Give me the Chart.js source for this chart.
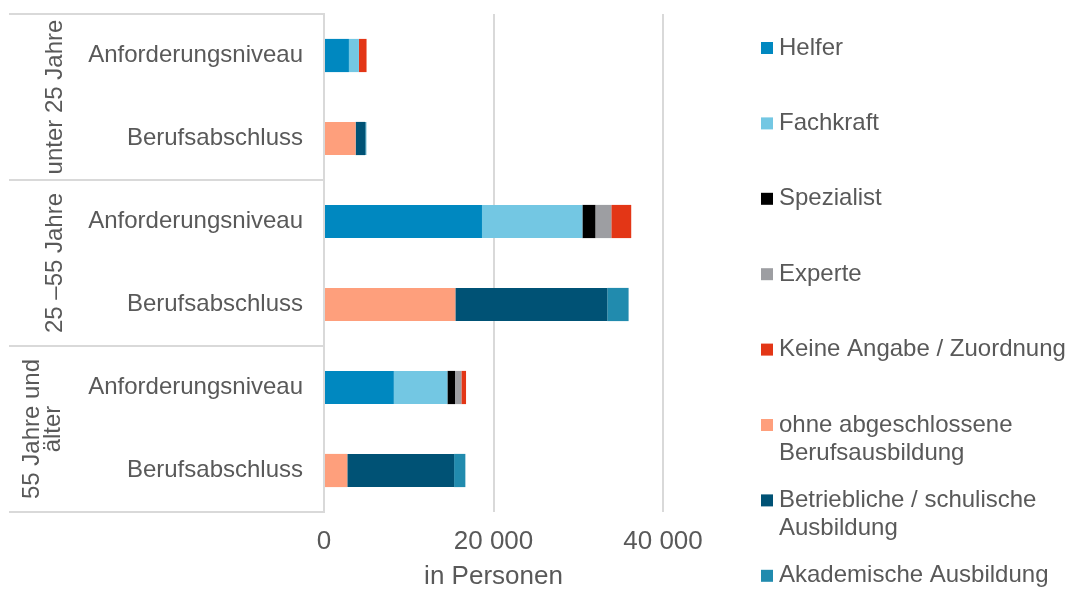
<!DOCTYPE html>
<html>
<head>
<meta charset="utf-8">
<script src="https://cdn.jsdelivr.net/npm/chart.js@4.4.1/dist/chart.umd.min.js"></script>
<style>
  html, body { margin: 0; padding: 0; background: #fff; }
  #wrap { width: 1069px; height: 590px; position: relative; }
</style>
</head>
<body>
<div id="wrap"><canvas id="grafic"></canvas></div>
<script>
// categories
const zeilen = ['Anforderungsniveau', 'Berufsabschluss', 'Anforderungsniveau', 'Berufsabschluss', 'Anforderungsniveau', 'Berufsabschluss'];
const gruppen = ['unter 25 Jahre', '25 \u201355 Jahre', ['55 Jahre und', 'älter']];
const xTicks = [0, 20000, 40000];

// series values (persons)
const helfer      = [2940, 0, 18640, 0, 8240, 0];
const fachkraft   = [1180, 0, 11850, 0, 6320, 0];
const spezialist  = [0, 0, 1530, 0, 900, 0];
const experte     = [0, 0, 1880, 0, 750, 0];
const keineAngabe = [900, 0, 2350, 0, 550, 0];
const ohneAbschl  = [0, 3730, 0, 15500, 0, 2750];
const betrieblich = [0, 1140, 0, 17930, 0, 12600];
const akademisch  = [0, 120, 0, 2510, 0, 1330];

const serien = [
    { label: 'Helfer', data: helfer, color: '#0088c0' },
    { label: 'Fachkraft', data: fachkraft, color: '#73c7e3' },
    { label: 'Spezialist', data: spezialist, color: '#000000' },
    { label: 'Experte', data: experte, color: '#9d9ea2' },
    { label: 'Keine Angabe / Zuordnung', data: keineAngabe, color: '#e33616' },
    { label: ['ohne abgeschlossene', 'Berufsausbildung'], data: ohneAbschl, color: '#fe9f7c' },
    { label: ['Betriebliche / schulische', 'Ausbildung'], data: betrieblich, color: '#005275' },
    { label: 'Akademische Ausbildung', data: akademisch, color: '#218bae' }
];

const textFarbe = '#595959';
const linienFarbe = '#d9d9d9';
const schrift = 'Liberation Sans, Arial, sans-serif';

function tausender(v) {
    return String(v).replace(/\B(?=(\d{3})+(?!\d))/g, ' ');
}

// group labels and frame lines on the left
const gruppenPlugin = {
    id: 'gruppen',
    afterDraw(chart) {
        const ctx = chart.ctx;
        const y = chart.scales.y;
        const area = chart.chartArea;
        const schritt = (area.bottom - area.top) / zeilen.length;
        ctx.save();
        ctx.strokeStyle = linienFarbe;
        ctx.lineWidth = 2;
        for (let g = 0; g <= gruppen.length; g++) {
            const yy = area.top + g * 2 * schritt;
            ctx.beginPath();
            ctx.moveTo(9, yy);
            ctx.lineTo(area.left, yy);
            ctx.stroke();
        }
        ctx.fillStyle = textFarbe;
        ctx.font = '24px ' + schrift;
        ctx.textAlign = 'center';
        ctx.textBaseline = 'middle';
        gruppen.forEach((txt, g) => {
            const mitte = (y.getPixelForValue(g * 2) + y.getPixelForValue(g * 2 + 1)) / 2;
            const zeilenTxt = Array.isArray(txt) ? txt : [txt];
            const lh = 21;
            const x0 = zeilenTxt.length > 1 ? 32 : 55;
            zeilenTxt.forEach((t, i) => {
                ctx.save();
                ctx.translate(x0 + i * lh, mitte);
                ctx.rotate(-Math.PI / 2);
                ctx.fillText(t, 0, 0);
                ctx.restore();
            });
        });
        ctx.restore();
    }
};

// legend on the right
const legendePlugin = {
    id: 'legende',
    afterDraw(chart) {
        const ctx = chart.ctx;
        ctx.save();
        ctx.font = '24px ' + schrift;
        ctx.textBaseline = 'middle';
        ctx.textAlign = 'left';
        serien.forEach((s, i) => {
            const yy = 48 + i * 75.4;
            ctx.fillStyle = s.color;
            ctx.fillRect(761, yy - 6, 12, 12);
            ctx.fillStyle = textFarbe;
            const t = Array.isArray(s.label) ? s.label : [s.label];
            t.forEach((z, j) => ctx.fillText(z, 779, yy + j * 28));
        });
        ctx.restore();
    }
};

new Chart(document.getElementById('grafic').getContext('2d'), {
    type: 'bar',
    data: {
        labels: zeilen,
        datasets: serien.map(s => ({
            label: Array.isArray(s.label) ? s.label.join(' ') : s.label,
            data: s.data,
            backgroundColor: s.color,
            borderWidth: 0,
            barPercentage: 0.4,
            categoryPercentage: 1
        }))
    },
    options: {
        indexAxis: 'y',
        responsive: true,
        maintainAspectRatio: false,
        animation: false,
        layout: { padding: { top: 14, right: 406, left: 0, bottom: 0 } },
        plugins: {
            legend: { display: false },
            tooltip: { enabled: false }
        },
        scales: {
            x: {
                stacked: true,
                min: 0,
                max: 40000,
                afterBuildTicks: sc => { sc.ticks = xTicks.map(v => ({ value: v })); },
                afterFit: sc => { sc.height = 78; },
                ticks: {
                    color: textFarbe,
                    font: { family: schrift, size: 26 },
                    padding: 14,
                    maxRotation: 0,
                    callback: v => tausender(v)
                },
                grid: { color: linienFarbe, lineWidth: 2, drawTicks: false },
                border: { display: false },
                title: {
                    display: true,
                    text: 'in Personen',
                    color: textFarbe,
                    font: { family: schrift, size: 26, lineHeight: 1 },
                    padding: 0
                }
            },
            y: {
                stacked: true,
                afterFit: sc => { sc.width = 324; sc.paddingTop = 0; sc.paddingBottom = 0; },
                ticks: {
                    color: textFarbe,
                    font: { family: schrift, size: 24 },
                    padding: 21
                },
                grid: { display: false, drawTicks: false },
                border: { display: true, color: linienFarbe, width: 2 }
            }
        }
    },
    plugins: [gruppenPlugin, legendePlugin]
});
</script>
</body>
</html>
